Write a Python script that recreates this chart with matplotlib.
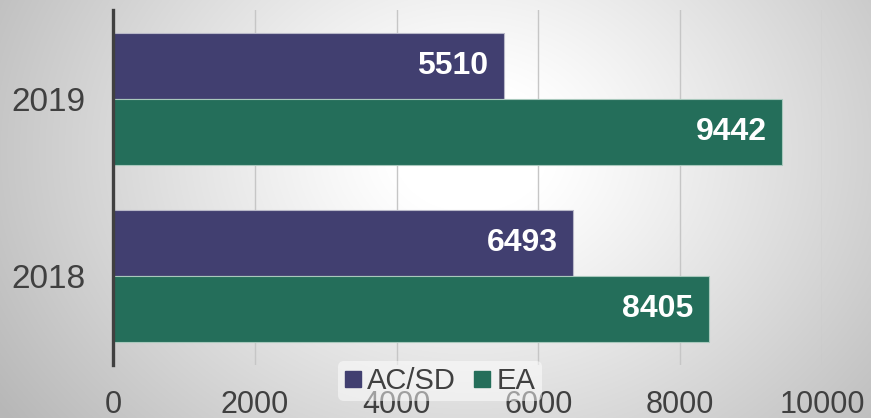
import numpy as np
import matplotlib
matplotlib.use("Agg")
import matplotlib.pyplot as plt
from matplotlib.lines import Line2D

plt.rcParams['font.family'] = ['Liberation Sans', 'DejaVu Sans']

categories = ["2018", "2019"]
series_names = ["AC/SD", "EA"]
acsd_values = [6493, 5510]
ea_values = [8405, 9442]
x_ticks = [0, 2000, 4000, 6000, 8000, 10000]
colors = ["#413f70", "#246e5a"]

W, H = 871, 418
fig = plt.figure(figsize=(W / 100, H / 100), dpi=100)

# radial gradient background
bg = fig.add_axes([0, 0, 1, 1], zorder=-10)
yy, xx = np.mgrid[0:H, 0:W]
cx, cy = 470, 150
d = np.sqrt(((xx - cx) / 520.0) ** 2 + ((yy - cy) / 420.0) ** 2)
v = np.clip(1.0 - 0.30 * np.clip(d - 0.15, 0, None) ** 1.1, 0.72, 1.0)
img = np.dstack([v, v, v])
bg.imshow(img, aspect='auto', extent=[0, 1, 0, 1], origin='upper')
bg.axis('off')

ax = fig.add_axes([113 / W, 1 - 365 / H, (822 - 113) / W, (365 - 10) / H])
ax.set_facecolor('none')

y = np.arange(len(categories))
h = 0.371
bars1 = ax.barh(y + h / 2, acsd_values, height=h, color=colors[0],
                edgecolor='#b8b8c8', linewidth=0.8, zorder=2, label=series_names[0])
bars2 = ax.barh(y - h / 2, ea_values, height=h, color=colors[1],
                edgecolor='#a8c8bc', linewidth=0.8, zorder=2, label=series_names[1])

for bars in (bars1, bars2):
    for b in bars:
        w = b.get_width()
        ax.annotate(f"{int(w)}", xy=(w, b.get_y() + b.get_height() / 2),
                    xytext=(-11, 0), textcoords='offset points',
                    ha='right', va='center', color='white',
                    fontsize=23, fontweight='bold', zorder=4)

ax.set_xlim(0, 10000)
ax.set_ylim(-0.5, 1.5)
ax.set_xticks(x_ticks)
ax.set_xticklabels([str(t) for t in x_ticks])
ax.set_yticks(y)
ax.set_yticklabels(categories)
ax.tick_params(axis='both', length=0, labelcolor='#404040')
ax.tick_params(axis='x', pad=18, labelsize=22)
ax.tick_params(axis='y', pad=20, labelsize=24)
ax.xaxis.grid(True, color='#c6c6c6', linewidth=1.0, zorder=1)
ax.set_axisbelow(True)
for s in ['top', 'right', 'bottom']:
    ax.spines[s].set_visible(False)
ax.spines['left'].set_color('#404040')
ax.spines['left'].set_linewidth(2.4)
ax.spines['left'].set_zorder(5)

handles = [Line2D([0], [0], marker='s', linestyle='none', markersize=11,
                  markerfacecolor=c, markeredgecolor=c) for c in colors]
leg = fig.legend(handles, series_names, loc='center',
                 bbox_to_anchor=(440 / W, 1 - 381 / H), ncol=2,
                 fontsize=21, frameon=True, handlelength=0.6,
                 handletextpad=0.2, columnspacing=0.6, borderpad=0.2)
leg.get_frame().set_facecolor('white')
leg.get_frame().set_alpha(0.5)
leg.get_frame().set_edgecolor('none')
for t in leg.get_texts():
    t.set_color('#404040')
leg.set_zorder(10)

fig.savefig("out.png", dpi=100)
